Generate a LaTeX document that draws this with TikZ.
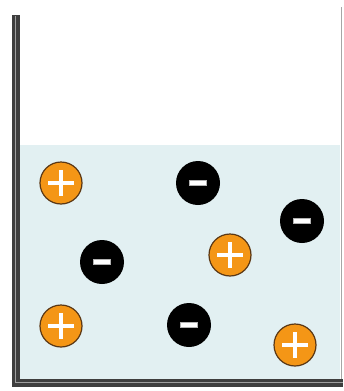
\documentclass[tikz,border=0pt]{standalone}
\usepackage{xcolor}
\usepackage{tikz}
\usetikzlibrary{positioning}

\definecolor{water}{RGB}{226,240,242}
\definecolor{wallgray}{RGB}{62,62,62}
\definecolor{ionorange}{RGB}{244,150,22}
\definecolor{ionrim}{RGB}{90,55,20}

\tikzset{
	cation/.style={circle, fill=ionorange, draw=ionrim, line width=1.2pt, minimum size=42pt, inner sep=0pt},
	anion/.style={circle, fill=black, minimum size=44pt, inner sep=0pt},
	plusbar/.style={white, line width=4.5pt},
	minusbar/.style={fill=white, draw=gray!60, line width=0.6pt}
}

\begin{document}
\begin{tikzpicture}[x=1pt, y=-1pt]
		\useasboundingbox (0,0) rectangle (343,391);
		
		% Solution
		\fill[water] (20,145) rectangle (340,379);
		
		% Beaker wall and floor
		\draw[wallgray, line width=8pt, line join=miter] (16,15) -- (16,383) -- (343,383);
		\draw[gray!75, line width=1pt] (15,16) -- (15,382) -- (343,382);
		\draw[gray!70, line width=0.8pt] (341.5,7) -- (341.5,379);
		
		% Positive ions
		\foreach \name/\x/\y in {p1/61/183, p2/230/255, p3/61/326, p4/295/345} {
			\node[cation] (\name) at (\x,\y) {};
			\draw[plusbar] (\name.center) ++(-13,0) -- ++(26,0);
			\draw[plusbar] (\name.center) ++(0,-13) -- ++(0,26);
		}
		
		% Negative ions
		\foreach \name/\x/\y in {n1/198/183, n2/302/221, n3/102/262, n4/189/325} {
			\node[anion] (\name) at (\x,\y) {};
			\draw[minusbar] (\name.center) ++(-8.5,-2.5) rectangle ++(17,5);
		}
	\end{tikzpicture}
\end{document}
